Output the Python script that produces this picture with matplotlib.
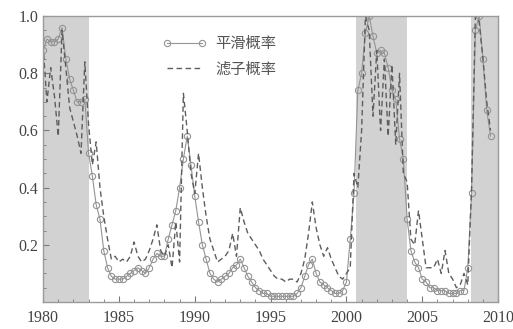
import matplotlib

matplotlib.use("Agg")
import matplotlib.pyplot as plt
import numpy as np
from matplotlib.ticker import MultipleLocator

plt.rcParams["font.family"] = ["Liberation Serif", "Noto Sans CJK SC"]

# quarterly, 1980Q1 .. 2009Q3
start_year = 1980
smoothed = [
    0.88, 0.92, 0.91, 0.91,  # 1980
    0.92, 0.96, 0.85, 0.78,
    0.74, 0.70, 0.70, 0.71,
    0.52, 0.44, 0.34, 0.29,
    0.18, 0.12, 0.09, 0.08,
    0.08, 0.08, 0.09, 0.10,  # 1985
    0.11, 0.12, 0.11, 0.10,
    0.12, 0.15, 0.17, 0.16,
    0.16, 0.22, 0.27, 0.32,
    0.40, 0.50, 0.58, 0.48,
    0.37, 0.28, 0.20, 0.15,  # 1990
    0.10, 0.08, 0.07, 0.08,
    0.09, 0.10, 0.12, 0.13,
    0.15, 0.12, 0.09, 0.07,
    0.05, 0.04, 0.03, 0.03,
    0.02, 0.02, 0.02, 0.02,  # 1995
    0.02, 0.02, 0.02, 0.03,
    0.05, 0.09, 0.13, 0.15,
    0.10, 0.07, 0.06, 0.05,
    0.04, 0.03, 0.03, 0.04,
    0.07, 0.22, 0.38, 0.74,  # 2000
    0.80, 0.94, 1.00, 0.93,
    0.87, 0.88, 0.87, 0.82,
    0.74, 0.71, 0.57, 0.50,
    0.29, 0.18, 0.14, 0.12,
    0.08, 0.07, 0.05, 0.05,  # 2005
    0.04, 0.04, 0.04, 0.03,
    0.03, 0.03, 0.04, 0.04,
    0.12, 0.38, 0.95, 1.00,
    0.85, 0.67, 0.58,
]
filtered = [
    0.90, 0.70, 0.82, 0.72,  # 1980
    0.58, 0.95, 0.82, 0.68,
    0.63, 0.58, 0.52, 0.84,
    0.62, 0.48, 0.56, 0.40,
    0.30, 0.22, 0.15, 0.16,
    0.14, 0.15, 0.14, 0.16,  # 1985
    0.21, 0.16, 0.14, 0.15,
    0.18, 0.22, 0.27, 0.18,
    0.16, 0.20, 0.12, 0.28,
    0.14, 0.73, 0.60, 0.45,
    0.38, 0.52, 0.40, 0.30,  # 1990
    0.22, 0.18, 0.14, 0.15,
    0.16, 0.18, 0.24, 0.16,
    0.33, 0.28, 0.24, 0.22,
    0.20, 0.18, 0.15, 0.13,
    0.11, 0.09, 0.08, 0.08,  # 1995
    0.07, 0.08, 0.08, 0.07,
    0.10, 0.15, 0.24, 0.35,
    0.26, 0.20, 0.16, 0.19,
    0.15, 0.12, 0.09, 0.08,
    0.10, 0.12, 0.45, 0.40,  # 2000
    0.60, 1.00, 0.95, 0.65,
    0.88, 0.60, 0.85, 0.58,
    0.83, 0.55, 0.80, 0.45,
    0.42, 0.22, 0.20, 0.32,
    0.22, 0.12, 0.12, 0.12,  # 2005
    0.15, 0.10, 0.18, 0.10,
    0.08, 0.05, 0.06, 0.10,
    0.06, 0.40, 1.00, 0.98,
    0.85, 0.70, 0.60,
]
# recession bands (shaded)
bands = [(1980.0, 1983.05), (2000.6, 2004.0), (2008.22, 2010.0)]
labels = ["平滑概率", "滤子概率"]

t = start_year + np.arange(len(smoothed)) / 4.0

fig = plt.figure(figsize=(5.13, 3.29), dpi=100)
ax = fig.add_axes([0.084, 0.082, 0.887, 0.869])

for b0, b1 in bands:
    ax.axvspan(b0, b1, color="#d2d2d2", lw=0, zorder=0)

ax.plot(t, smoothed, "-o", color="#949494", lw=0.8, ms=4.5, mfc="none",
        mew=0.8, label=labels[0])
ax.plot(t, filtered, "--", color="#5e5e5e", lw=1.0, dashes=(4, 2.5),
        label=labels[1])

ax.set_xlim(1980, 2010)
ax.set_ylim(0, 1.0)
ax.set_xticks(np.arange(1980, 2011, 5))
ax.set_yticks([0.2, 0.4, 0.6, 0.8, 1.0])
ax.set_yticklabels(["0.2", "0.4", "0.6", "0.8", "1.0"])
ax.xaxis.set_minor_locator(MultipleLocator(1))
ax.yaxis.set_minor_locator(MultipleLocator(0.05))
ax.tick_params(which="both", direction="in", colors="#777777",
               labelcolor="#444444", labelsize=11.5)
ax.tick_params(which="major", length=4)
ax.tick_params(which="minor", length=2)
ax.tick_params(axis="x", pad=6)
for sp in ax.spines.values():
    sp.set_color("#9a9a9a")
    sp.set_linewidth(1.0)

leg = ax.legend(loc="upper left", bbox_to_anchor=(0.245, 0.96), frameon=False,
                numpoints=2, handlelength=2.9, handletextpad=0.6,
                labelspacing=0.55, borderpad=0,
                prop={"family": "Noto Sans CJK SC", "size": 11})
for txt in leg.get_texts():
    txt.set_color("#555555")

plt.savefig("out.png", dpi=100)
